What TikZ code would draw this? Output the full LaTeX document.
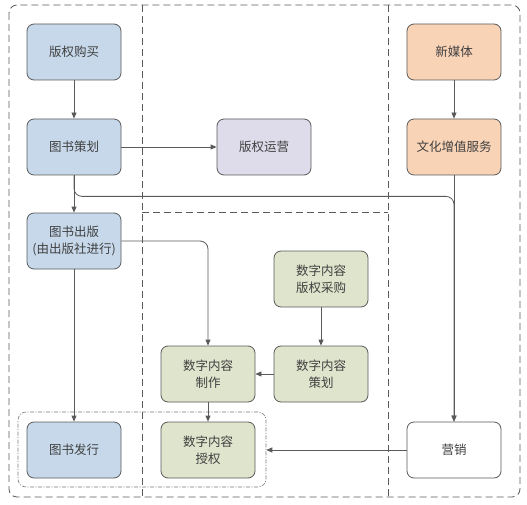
\documentclass[tikz,border=0pt]{standalone}
\usepackage{fontspec}
\newfontfamily\cjk{Noto Sans CJK SC}
\usetikzlibrary{arrows.meta,positioning}
\definecolor{linegray}{HTML}{5A5A5A}
\definecolor{bookblue}{HTML}{C6D8EA}
\definecolor{opslilac}{HTML}{DEDBEA}
\definecolor{mediaorange}{HTML}{F9D3B6}
\definecolor{digigreen}{HTML}{DFE4CC}

\begin{document}
\begin{tikzpicture}[x=1pt,y=-1pt,
  box/.style={draw=linegray,line width=0.8pt,rounded corners=7pt,minimum width=94pt,
    minimum height=56pt,align=center,text=black!75,font=\cjk\fontsize{12.5}{17.5}\selectfont},
  arr/.style={draw=linegray,line width=0.8pt,-{Triangle[length=6pt,width=5pt]}},
  zone/.style={draw=linegray,line width=0.8pt,dash pattern=on 7pt off 4pt}]
\useasboundingbox (0,0) rectangle (527,505);
% dashed zones
\draw[zone,rounded corners=8pt] (9,5) rectangle (520,497);
\draw[zone] (142,5)--(142,497);
\draw[zone] (388,5)--(388,497);
\draw[zone] (142,212)--(388,212);
\node[draw=linegray!80,line width=0.6pt,dash pattern=on 4pt off 1.5pt on 1pt off 1.5pt,
  rounded corners=8pt,minimum width=248pt,minimum height=75pt] (grp) at (142,449.5) {};
% book side
\node[box,fill=bookblue] (buy) at (74,52) {版权购买};
\node[box,fill=bookblue] (plan) at (74,147) {图书策划};
\node[box,fill=bookblue] (pub) at (74,241) {图书出版\\(由出版社进行)};
\node[box,fill=bookblue] (dist) at (74,450) {图书发行};
\node[box,fill=opslilac] (ops) at (264,147) {版权运营};
% new media side
\node[box,fill=mediaorange] (media) at (454,52) {新媒体};
\node[box,fill=mediaorange] (value) at (454,147) {文化增值服务};
\node[box,fill=white] (mkt) at (454,450) {营销};
% digital content
\node[box,fill=digigreen] (dbuy) at (321,279) {数字内容\\版权采购};
\node[box,fill=digigreen] (dplan) at (321,374) {数字内容\\策划};
\node[box,fill=digigreen] (make) at (208,374) {数字内容\\制作};
\node[box,fill=digigreen] (lic) at (208,450) {数字内容\\授权};
% connectors
\draw[arr] (buy) -- (plan);
\draw[arr] (plan) -- (ops);
\draw[arr] (plan) -- (pub);
\draw[arr,rounded corners=8pt] (plan.south) -- ++(0,21) -| (mkt.north);
\draw[arr] (media) -- (value);
\draw[arr] (value) -- (mkt);
\draw[arr,rounded corners=8pt] (pub.east) -| (make.north);
\draw[arr] (pub) -- (dist);
\draw[arr] (dbuy) -- (dplan);
\draw[arr] (dplan) -- (make);
\draw[arr] (make) -- (lic);
\draw[arr] (mkt.west) -- (mkt.west -| grp.east);
\end{tikzpicture}
\end{document}
